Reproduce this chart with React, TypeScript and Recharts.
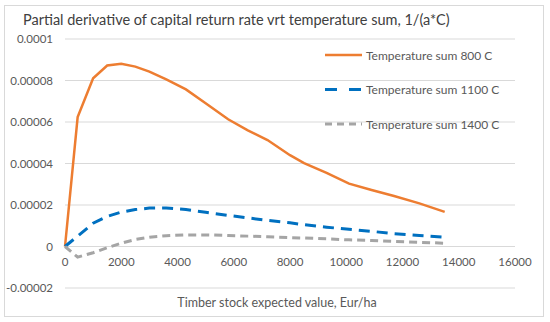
import { LineChart, Line, XAxis, YAxis, CartesianGrid, Legend } from 'recharts'

// timber stock expected value, Eur/ha
const stockValues = [0, 450, 1000, 1500, 2000, 2500, 3000, 3600, 4300, 5000, 5800, 6500, 7200, 8000, 8500, 9300, 10100, 10900, 11700, 12600, 13500]

// partial derivative, 1/(a*C)
const sum800 = [0, 0.0000624, 0.0000811, 0.0000872, 0.0000881, 0.0000867, 0.0000843, 0.0000805, 0.0000757, 0.0000690, 0.0000613, 0.0000560, 0.0000513, 0.0000440, 0.0000402, 0.0000355, 0.0000303, 0.0000272, 0.0000243, 0.0000208, 0.0000167]
const sum1100 = [0, 0.0000050, 0.0000112, 0.0000145, 0.0000166, 0.0000178, 0.0000185, 0.0000186, 0.0000178, 0.0000165, 0.0000150, 0.0000138, 0.0000126, 0.0000114, 0.0000105, 0.0000093, 0.0000083, 0.0000073, 0.0000062, 0.0000053, 0.0000045]
const sum1400 = [0, -0.0000051, -0.0000030, -0.0000006, 0.0000016, 0.0000034, 0.0000045, 0.0000052, 0.0000056, 0.0000056, 0.0000053, 0.0000050, 0.0000047, 0.0000043, 0.0000041, 0.0000037, 0.0000032, 0.0000029, 0.0000025, 0.0000020, 0.0000016]

const xTicks = [0, 2000, 4000, 6000, 8000, 10000, 12000, 14000, 16000]
const yTicks = [-0.00002, 0, 0.00002, 0.00004, 0.00006, 0.00008, 0.0001]

const seriesNames = ['Temperature sum 800 C', 'Temperature sum 1100 C', 'Temperature sum 1400 C']
const seriesColors = ['#ED7D31', '#0070C0', '#A5A5A5']
const seriesDashes = ['', '11 7', '8 5']

const data = stockValues.map((x, i) => ({
  x,
  s800: sum800[i],
  s1100: sum1100[i],
  s1400: sum1400[i],
}))

const FONT = 'Lato, "Open Sans", sans-serif'
const W = 550
const H = 322
const MARGIN = { top: 39, right: 35, bottom: 0, left: 0 }
const X_AXIS_H = 34
const Y_MIN = yTicks[0]
const Y_MAX = yTicks[yTicks.length - 1]
const plotHeight = H - MARGIN.top - MARGIN.bottom - X_AXIS_H
// distance between plot bottom and the zero line (Excel puts the x labels at y=0)
const zeroOffset = (plotHeight * (0 - Y_MIN)) / (Y_MAX - Y_MIN)

const formatY = (v: number) => {
  if (v === 0) return '0'
  return v.toFixed(6).replace(/0+$/, '').replace(/\.$/, '')
}

const XTick = ({ x, y, payload }: any) => (
  <text
    x={x}
    y={y - zeroOffset + 15}
    textAnchor="middle"
    dominantBaseline="central"
    fill="#595959"
    fontSize={11.5}
    fontFamily={FONT}
  >
    {payload.value}
  </text>
)

const LegendContent = () => (
  <svg width={200} height={90}>
    {seriesNames.map((name, i) => (
      <g key={name} transform={`translate(0, ${i * 34.5})`}>
        <line
          x1={3}
          x2={40}
          y1={13}
          y2={13}
          stroke={seriesColors[i]}
          strokeWidth={i === 0 ? 2.5 : 3}
          strokeDasharray={i === 1 ? '12 12' : i === 2 ? '7 5' : undefined}
        />
        <text x={44} y={13} dominantBaseline="central" fill="#595959" fontSize={12} fontFamily={FONT}>
          {name}
        </text>
      </g>
    ))}
  </svg>
)

export default function App() {
  return (
    <div style={{ position: 'absolute', left: 0, top: 0, width: W, height: H, background: '#fff', fontFamily: FONT }}>
      <div
        style={{
          position: 'absolute',
          left: 4,
          top: 5,
          width: 538,
          height: 310,
          border: '1px solid #d9d9d9',
        }}
      />
      <div
        style={{
          position: 'absolute',
          left: 23,
          top: 10,
          fontSize: 14.5,
          color: '#404040',
          whiteSpace: 'nowrap',
          lineHeight: '20px',
        }}
      >
        Partial derivative of capital return rate vrt temperature sum, 1/(a*C)
      </div>
      <div
        style={{
          position: 'absolute',
          left: 0,
          width: 554,
          top: 294,
          textAlign: 'center',
          fontSize: 12.5,
          color: '#595959',
          lineHeight: '18px',
        }}
      >
        Timber stock expected value, Eur/ha
      </div>
      <div style={{ position: 'absolute', left: 0, top: 0 }}>
        <LineChart width={W} height={H} data={data} margin={MARGIN}>
          <CartesianGrid vertical={false} stroke="#d9d9d9" strokeWidth={1} />
          <XAxis
            dataKey="x"
            type="number"
            domain={[0, 16000]}
            ticks={xTicks}
            axisLine={false}
            tickLine={false}
            tickSize={0}
            tickMargin={0}
            height={X_AXIS_H}
            tick={<XTick />}
            interval={0}
          />
          <YAxis
            type="number"
            domain={[Y_MIN, Y_MAX]}
            ticks={yTicks}
            width={65}
            axisLine={false}
            tickLine={false}
            tickSize={0}
            tickMargin={12}
            tickFormatter={formatY}
            tick={{ fill: '#595959', fontSize: 11.5, fontFamily: FONT }}
            interval={0}
          />
          <Legend
            layout="vertical"
            verticalAlign="middle"
            align="center"
            content={<LegendContent />}
            wrapperStyle={{ position: 'absolute', left: 322, top: 42, width: 200 }}
          />
          {['s800', 's1100', 's1400'].map((key, i) => (
            <Line
              key={key}
              type="linear"
              dataKey={key}
              name={seriesNames[i]}
              stroke={seriesColors[i]}
              strokeWidth={i === 0 ? 2.5 : 3}
              strokeDasharray={seriesDashes[i] || undefined}
              dot={false}
              isAnimationActive={false}
            />
          ))}
        </LineChart>
      </div>
    </div>
  )
}
